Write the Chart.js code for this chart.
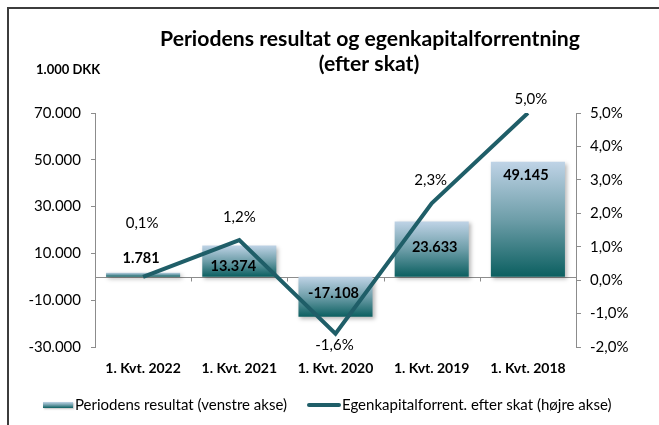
<!DOCTYPE html>
<html><head><meta charset="utf-8">
<script src="https://cdn.jsdelivr.net/npm/chart.js@4.4.0/dist/chart.umd.min.js"></script>
<style>
html,body{margin:0;padding:0;background:#fff;}
#wrap{position:relative;width:659px;height:425px;overflow:hidden;}
#frame{position:absolute;left:7px;top:7px;width:700px;height:500px;border-top:2px solid #3c3c3c;border-left:2px solid #3c3c3c;pointer-events:none;}
canvas{position:absolute;left:0;top:0;}
</style></head><body>
<div id="wrap"><canvas id="c" width="659" height="425"></canvas><div id="frame"></div></div>
<script>
// ---- data ----
const categories = ['1. Kvt. 2022', '1. Kvt. 2021', '1. Kvt. 2020', '1. Kvt. 2019', '1. Kvt. 2018'];
const resultat = [1781, 13374, -17108, 23633, 49145];          // 1.000 DKK
const forrentning = [0.1, 1.2, -1.6, 2.3, 5.0];                // percent
const leftTicks = [-30000, -10000, 10000, 30000, 50000, 70000];
const rightTicks = [-2, -1, 0, 1, 2, 3, 4, 5];
const titleLines = ['Periodens resultat og egenkapitalforrentning', '(efter skat)'];
const unitLabel = '1.000 DKK';
const legendLabels = ['Periodens resultat (venstre akse)', 'Egenkapitalforrent. efter skat (højre akse)'];

// ---- helpers ----
const FONT = 'Lato, "Open Sans", "Liberation Sans", sans-serif';
Chart.defaults.font.family = FONT;
Chart.defaults.color = '#000';
function fmtK(v) {
  const s = Math.abs(Math.round(v)).toString().replace(/\B(?=(\d{3})+(?!\d))/g, '.');
  return (v < 0 ? '-' : '') + s;
}
function fmtP(v) { return v.toFixed(1).replace('.', ',') + '%'; }
const LINE_COLOR = '#1f5e68';
const AXIS_COLOR = '#8c8c8c';
function barGradient(ctx, top, bot) {
  const g = ctx.createLinearGradient(0, top, 0, bot);
  g.addColorStop(0, '#bfd3e6');
  g.addColorStop(0.5, '#6e9ea9');
  g.addColorStop(1, '#0b5f60');
  return g;
}

// label offsets (pixels) relative to value end of each mark
const barLabelOff = [[-2, -14], [-6, 21], [-2, -24], [3, 26], [-2, 14]];
const lineLabelOff = [[-1, -54], [0, -23], [-1, 12], [-1, -23], [3, -14]];

const decor = {
  id: 'decor',
  beforeDatasetsDraw(chart) {
    const { ctx, chartArea: a, scales } = chart;
    const y0 = Math.round(scales.y.getPixelForValue(0)) + 0.5;
    ctx.save();
    ctx.strokeStyle = AXIS_COLOR; ctx.lineWidth = 1;
    ctx.beginPath();
    ctx.moveTo(a.left, y0); ctx.lineTo(a.right, y0);
    const n = categories.length;
    for (let i = 1; i < n; i++) {
      const xb = Math.round((scales.x.getPixelForValue(i - 1) + scales.x.getPixelForValue(i)) / 2) + 0.5;
      ctx.moveTo(xb, y0); ctx.lineTo(xb, y0 + 4);
    }
    ctx.stroke();
    ctx.restore();
  },
  beforeDatasetDraw(chart, args) {
    if (args.index === 1) {
      const ctx = chart.ctx; ctx.save();
      ctx.shadowColor = 'rgba(0,0,0,0.28)'; ctx.shadowBlur = 4; ctx.shadowOffsetX = 2; ctx.shadowOffsetY = 2;
    }
  },
  afterDatasetDraw(chart, args) {
    if (args.index === 1) chart.ctx.restore();
  },
  afterDatasetsDraw(chart) {
    const { ctx, scales } = chart;
    ctx.save();
    ctx.fillStyle = '#000';
    ctx.textAlign = 'center'; ctx.textBaseline = 'middle';
    // bar labels
    ctx.font = 'bold 14.5px ' + FONT;
    resultat.forEach((v, i) => {
      const x = scales.x.getPixelForValue(i) + barLabelOff[i][0];
      const y = scales.y.getPixelForValue(v) + barLabelOff[i][1];
      ctx.fillText(fmtK(v), x, y);
    });
    // line labels
    ctx.font = '15px ' + FONT;
    forrentning.forEach((v, i) => {
      const x = scales.x.getPixelForValue(i) + lineLabelOff[i][0];
      const y = scales.y1.getPixelForValue(v) + lineLabelOff[i][1];
      ctx.fillText(fmtP(v), x, y);
    });
    ctx.restore();
  },
  afterDraw(chart) {
    const ctx = chart.ctx;
    ctx.save();
    ctx.fillStyle = '#000';
    // title, fitted to measured width
    ctx.textAlign = 'center'; ctx.textBaseline = 'alphabetic';
    ctx.font = 'bold 22px ' + FONT;
    const w = ctx.measureText(titleLines[0]).width;
    const fs = Math.min(22, 22 * 420 / w);
    ctx.font = 'bold ' + fs.toFixed(2) + 'px ' + FONT;
    ctx.fillText(titleLines[0], 370, 46);
    ctx.fillText(titleLines[1], 369, 71);
    // unit label
    ctx.textAlign = 'left'; ctx.textBaseline = 'middle';
    ctx.font = 'bold 13px ' + FONT;
    ctx.fillText(unitLabel, 36, 70);
    // legend
    const ly = 405;
    ctx.shadowColor = 'rgba(0,0,0,0.25)'; ctx.shadowBlur = 2; ctx.shadowOffsetX = 1; ctx.shadowOffsetY = 1;
    ctx.fillStyle = barGradient(ctx, ly - 3, ly + 3);
    ctx.fillRect(43, ly - 3, 30, 6);
    ctx.shadowColor = 'transparent';
    ctx.strokeStyle = LINE_COLOR; ctx.lineWidth = 4; ctx.lineCap = 'round';
    ctx.beginPath(); ctx.moveTo(309, ly); ctx.lineTo(339, ly); ctx.stroke();
    ctx.fillStyle = '#000';
    ctx.font = '15px ' + FONT;
    ctx.fillText(legendLabels[0], 75, ly);
    ctx.fillText(legendLabels[1], 342, ly);
    ctx.restore();
  }
};

new Chart(document.getElementById('c'), {
  data: {
    labels: categories,
    datasets: [
      {
        type: 'line', label: legendLabels[1], data: forrentning, yAxisID: 'y1', order: 0,
        borderColor: LINE_COLOR, borderWidth: 4, pointRadius: 0, tension: 0,
        borderJoinStyle: 'miter', fill: false
      },
      {
        type: 'bar', label: legendLabels[0], data: resultat, yAxisID: 'y', order: 1,
        barPercentage: 0.77, categoryPercentage: 1,
        backgroundColor: (c) => {
          const chart = c.chart;
          if (!chart.chartArea || c.type !== 'data') return '#6e9ea9';
          const ys = chart.scales.y;
          const v = c.raw;
          const top = ys.getPixelForValue(Math.max(v, 0));
          const bot = ys.getPixelForValue(Math.min(v, 0));
          return barGradient(chart.ctx, top, bot);
        },
        borderWidth: 0
      }
    ]
  },
  options: {
    responsive: false, animation: false,
    layout: { padding: { top: 113, left: 0, right: 0, bottom: 0 } },
    plugins: { legend: { display: false }, title: { display: false }, tooltip: { enabled: false } },
    scales: {
      x: {
        type: 'category', position: 'bottom',
        grid: { display: false, drawTicks: false }, border: { display: false },
        ticks: { font: { size: 14, weight: 'bold' }, padding: 13, color: '#000', maxRotation: 0 },
        afterFit(s) { s.height = 78; }
      },
      y: {
        type: 'linear', position: 'left', min: -30000, max: 70000,
        grid: { drawOnChartArea: false, color: AXIS_COLOR, tickLength: 4 },
        border: { color: AXIS_COLOR },
        ticks: { font: { size: 15 }, padding: 10, color: '#000', callback: (v) => fmtK(v) },
        afterBuildTicks(s) { s.ticks = leftTicks.map(v => ({ value: v })); },
        afterFit(s) { s.width = 95; }
      },
      y1: {
        type: 'linear', position: 'right', min: -2, max: 5,
        grid: { drawOnChartArea: false, color: AXIS_COLOR, tickLength: 5 },
        border: { color: AXIS_COLOR },
        ticks: { font: { size: 15 }, padding: 9, color: '#000', callback: (v) => fmtP(v) },
        afterBuildTicks(s) { s.ticks = rightTicks.map(v => ({ value: v })); },
        afterFit(s) { s.width = 83; }
      }
    }
  },
  plugins: [decor]
});
</script>
</body></html>
